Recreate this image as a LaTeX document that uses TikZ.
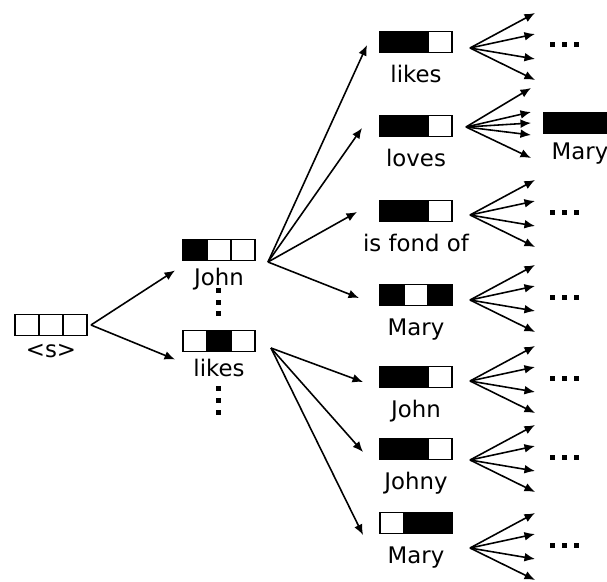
\documentclass[tikz,border=0pt]{standalone}
\usepackage{fontspec}
\setmainfont{DejaVu Sans}
\usetikzlibrary{arrows.meta,positioning,calc}

\tikzset{
  cell/.style={draw, line width=1.1pt, minimum width=0.48cm, minimum height=0.42cm, inner sep=0},
  word/.style={anchor=base, inner sep=0, font=\fontsize{13}{15}\selectfont},
  arr/.style={-{Latex[length=6pt,width=5pt]}, line width=0.9pt},
  dot/.style={fill, minimum size=0.1cm, inner sep=0},
}

% one word vector: three cells in a row, the word under them
\newcommand{\wordvec}[5][29]{%
  \foreach \f [count=\k] in {#4}
    \node[cell, fill=\f] (#2\k) at ($(#3)+(\k*24-48,0)$) {};
  \node[word] (#2w) at ($(#22.south)+(0,#1)$) {#5};
}

\begin{document}
\begin{tikzpicture}[x=0.02cm, y=-0.02cm]
    \useasboundingbox (0,0) rectangle (607,581);

    % start symbol
    \wordvec[21]{s}{51,325}{white,white,white}{<s>}

    % second word
    \wordvec[24]{mjohn}{219,250}{black,white,white}{John}
    \wordvec[24]{mlikes}{219,341}{white,black,white}{likes}

    % third word
    \wordvec{rlikes}{416,42}{black,black,white}{likes}
    \wordvec{rloves}{416,126}{black,black,white}{loves}
    \wordvec{rfond}{416,211}{black,black,white}{is fond of}
    \wordvec{rmary}{416,295}{black,white,black}{Mary}
    \wordvec{rjohn}{416,377}{black,black,white}{John}
    \wordvec{rjohny}{416,449}{black,black,white}{Johny}
    \wordvec{rmaryb}{416,523}{white,black,black}{Mary}

    % fourth word after "loves"
    \wordvec[25]{fmary}{580,123}{black,black,black}{Mary}

    % arrows out of <s>
    \coordinate (ssrc) at ($(s3.east)+(3,0)$);
    \draw[arr] (ssrc) -- ($(mjohn1.south west)+(-7,9)$);
    \draw[arr] (ssrc) -- ($(mlikes1.south west)+(-7,7)$);

    % arrows out of John and likes
    \coordinate (jsrc) at ($(mjohn3.east)+(12,12)$);
    \foreach \tgt/\dx/\dy in {rlikes/-12/3, rloves/-17/2, rfond/-22/1, rmary/-20/3}
        \draw[arr] (jsrc) -- ($(\tgt1.west)+(\dx,\dy)$);
    \coordinate (lsrc) at ($(mlikes3.east)+(15,7)$);
    \foreach \tgt/\dy in {rjohn/5, rjohny/3, rmaryb/12}
        \draw[arr] (lsrc) -- ($(\tgt1.west)+(-16,\dy)$);

    % dots between the second words
    \foreach \y in {40,52,63}
        \node[dot] at ($(mjohn2.center)+(-1,\y)$) {};
    \foreach \y in {47,59,71}
        \node[dot] at ($(mlikes2.center)+(-1,\y)$) {};

    % fans towards the fourth word
    \foreach \n/\fy in {rlikes/48, rfond/215, rmary/300, rjohn/381, rjohny/460, rmaryb/548} {
        \coordinate (\n f) at (470,\fy);
        \foreach \dy in {-35,-14,11,32}
            \draw[arr] (\n f) -- ($(\n f)+(65,\dy)$);
        \foreach \x in {82,94,106}
            \node[dot] at ($(\n f)+(\x,-3)$) {};
    }
    \coordinate (rlovesf) at (466,127);
    \foreach \dy in {-39,-15,-4,8,31}
        \draw[arr] (rlovesf) -- ($(rlovesf)+(65,\dy)$);
\end{tikzpicture}
\end{document}
